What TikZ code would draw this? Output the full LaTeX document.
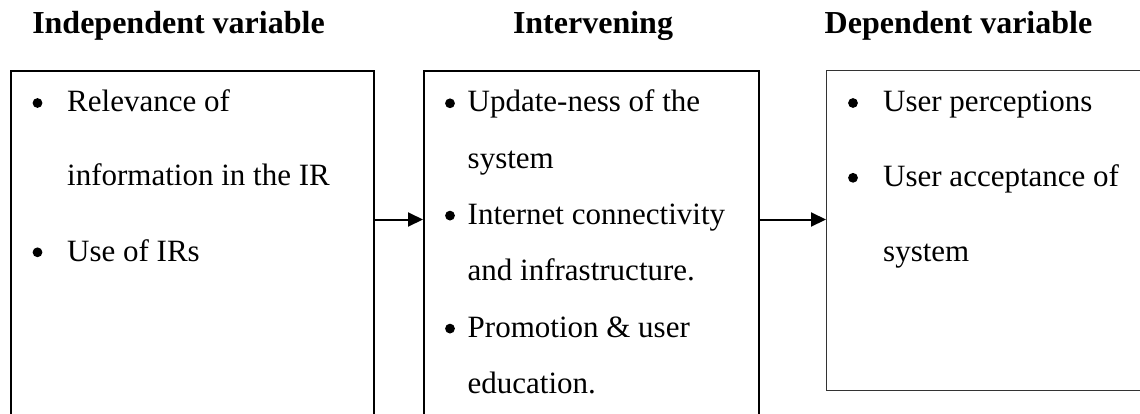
\documentclass[tikz,border=0pt]{standalone}
\usepackage{fontspec}
\setmainfont{Liberation Serif}
\usetikzlibrary{arrows.meta}
\begin{document}
\begin{tikzpicture}[x=1pt,y=-1pt,
  title/.style={font=\fontsize{32}{38}\selectfont\bfseries, anchor=base, inner sep=0},
  item/.style={font=\fontsize{31}{37}\selectfont, anchor=base west, inner sep=0},
  bul/.style={circle, fill, inner sep=0, minimum size=9.8pt},
  frame/.style={draw, line width=2pt, inner sep=0, anchor=north west},
  conn/.style={line width=2pt, -{Triangle[length=15pt,width=14pt]}}]
\useasboundingbox (0,0) rectangle (1140,413);
\clip (0,0) rectangle (1140,413);
% titles
\node[title] (h1) at (178.5,33) {Independent variable};
\node[title] (h2) at (593,33) {Intervening};
\node[title] (h3) at (958.5,33) {Dependent variable};
% boxes
\node[frame, minimum width=363pt, minimum height=400pt] (b1) at (10,70) {};
\node[frame, minimum width=335pt, minimum height=400pt] (b2) at (423,70) {};
\node[frame, line width=1.2pt, draw=black!80, minimum width=340pt, minimum height=320pt] (b3) at (826,70) {};
% connectors
\coordinate (ay) at (0,219.5);
\draw[conn] (b1.east |- ay) -- (b2.west |- ay);
\draw[conn] (b2.east |- ay) -- (b3.west |- ay);
% box 1 text
\node[bul] (p1a) at (37.5,103) {};
\node[item] (t1a) at (67,111.7) {Relevance of};
\node[item] (t1b) at (67,185) {information in the IR};
\node[bul] (p1c) at (37.5,252.3) {};
\node[item] (t1c) at (67,261) {Use of IRs};
% box 2 text
\node[bul] (p2a) at (450,103.3) {};
\node[item] (t2a) at (467.5,111.7) {Update-ness of the};
\node[item] (t2b) at (467.5,168) {system};
\node[bul] (p2c) at (450,215.6) {};
\node[item] (t2c) at (467.5,224) {Internet connectivity};
\node[item] (t2d) at (467.5,280.5) {and infrastructure.};
\node[bul] (p2e) at (450,328.6) {};
\node[item] (t2e) at (467.5,337) {Promotion \& user};
\node[item] (t2f) at (467.5,393.5) {education.};
% box 3 text
\node[bul] (p3a) at (853,103) {};
\node[item] (t3a) at (883,111.7) {User perceptions};
\node[bul] (p3b) at (853,177.8) {};
\node[item] (t3b) at (883,186.5) {User acceptance of};
\node[item] (t3c) at (883,261) {system};
\end{tikzpicture}
\end{document}
